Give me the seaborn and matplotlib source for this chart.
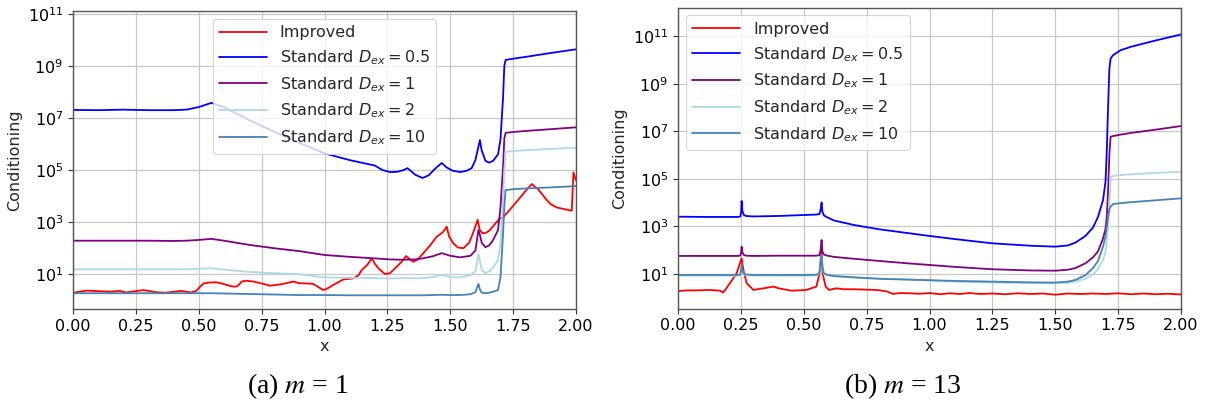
import numpy as np
import pandas as pd
import matplotlib
matplotlib.use("Agg")
import matplotlib.pyplot as plt
from matplotlib.ticker import NullLocator
import seaborn as sns

# ---------------------------------------------------------------------------
# Conditioning numbers along x, stored as log10 values
# ---------------------------------------------------------------------------
series_labels = ["Improved",
                 r"Standard $D_{ex} = 0.5$",
                 r"Standard $D_{ex} = 1$",
                 r"Standard $D_{ex} = 2$",
                 r"Standard $D_{ex} = 10$"]
series_colors = ["red", "blue", "purple", "lightblue", "steelblue"]

# (a) m = 1
x_improved_m1 = [0.00, 0.054, 0.147, 0.187, 0.21, 0.28, 0.33, 0.37, 0.43, 0.47,
                 0.49, 0.505, 0.52, 0.54, 0.57, 0.59, 0.624, 0.644, 0.655, 0.671,
                 0.69, 0.717, 0.757, 0.783, 0.81, 0.836, 0.876, 0.90, 0.916, 0.955,
                 0.975, 0.995, 1.015, 1.035, 1.075, 1.115, 1.135, 1.148, 1.17, 1.188,
                 1.20, 1.214, 1.24, 1.26, 1.287, 1.31, 1.324, 1.335, 1.353, 1.37,
                 1.393, 1.42, 1.446, 1.47, 1.486, 1.495, 1.512, 1.53, 1.552, 1.575,
                 1.59, 1.609, 1.617, 1.629, 1.645, 1.658, 1.68, 1.698, 1.711, 1.764,
                 1.80, 1.824, 1.85, 1.883, 1.90, 1.923, 1.983, 1.99, 2.00]
log_improved_m1 = [0.28, 0.36, 0.32, 0.35, 0.29, 0.38, 0.30, 0.28, 0.35, 0.29,
                   0.35, 0.51, 0.64, 0.67, 0.68, 0.64, 0.54, 0.51, 0.54, 0.71,
                   0.74, 0.71, 0.62, 0.55, 0.58, 0.62, 0.71, 0.64, 0.64, 0.62,
                   0.50, 0.38, 0.46, 0.58, 0.79, 0.83, 0.95, 1.15, 1.35, 1.60,
                   1.40, 1.22, 1.00, 1.03, 1.28, 1.50, 1.69, 1.60, 1.47, 1.55,
                   1.80, 2.10, 2.43, 2.60, 2.82, 2.45, 2.18, 2.02, 1.99, 2.20,
                   2.56, 3.08, 2.70, 2.56, 2.60, 2.69, 2.95, 3.14, 3.18, 3.78,
                   4.20, 4.46, 4.25, 3.85, 3.68, 3.56, 3.43, 4.90, 4.60]

x_dex05_m1 = [0.00, 0.10, 0.20, 0.30, 0.40, 0.45, 0.50, 0.55, 0.60, 0.70,
              0.80, 0.90, 1.00, 1.10, 1.20, 1.23, 1.26, 1.29, 1.315, 1.33,
              1.345, 1.36, 1.39, 1.415, 1.44, 1.466, 1.485, 1.51, 1.54, 1.565,
              1.585, 1.60, 1.612, 1.618, 1.625, 1.64, 1.655, 1.67, 1.69, 1.70,
              1.71, 1.715, 1.72, 1.75, 1.80, 1.90, 2.00]
log_dex05_m1 = [7.31, 7.30, 7.32, 7.30, 7.30, 7.32, 7.42, 7.58, 7.42, 6.92,
                6.47, 6.04, 5.64, 5.38, 5.17, 5.00, 4.92, 4.93, 5.00, 5.07,
                4.95, 4.82, 4.69, 4.80, 5.05, 5.27, 5.10, 4.97, 4.92, 4.97,
                5.07, 5.38, 5.90, 6.15, 5.75, 5.35, 5.28, 5.35, 5.60, 6.20,
                7.80, 9.00, 9.23, 9.28, 9.35, 9.50, 9.64]

x_standard_m1 = [0.00, 0.10, 0.20, 0.30, 0.40, 0.45, 0.50, 0.55, 0.60, 0.70,
                 0.80, 0.90, 1.00, 1.10, 1.20, 1.26, 1.30, 1.33, 1.36, 1.39,
                 1.43, 1.466, 1.50, 1.54, 1.58, 1.60, 1.612, 1.618, 1.625, 1.64,
                 1.655, 1.67, 1.69, 1.70, 1.71, 1.715, 1.72, 1.75, 1.80, 1.90,
                 2.00]
log_dex1_m1 = [2.28, 2.28, 2.28, 2.28, 2.27, 2.28, 2.31, 2.35, 2.28, 2.12,
               1.99, 1.88, 1.73, 1.66, 1.60, 1.56, 1.55, 1.55, 1.56, 1.60,
               1.68, 1.80, 1.70, 1.64, 1.70, 1.90, 2.69, 2.50, 2.20, 2.03,
               2.10, 2.30, 2.69, 3.60, 5.13, 6.20, 6.43, 6.46, 6.50, 6.57,
               6.64]
log_dex2_m1 = [1.18, 1.18, 1.18, 1.18, 1.18, 1.18, 1.20, 1.22, 1.17, 1.08,
               1.03, 0.99, 0.87, 0.85, 0.84, 0.83, 0.83, 0.85, 0.83, 0.84,
               0.88, 0.96, 0.88, 0.87, 0.95, 1.10, 1.77, 1.50, 1.15, 1.03,
               1.10, 1.25, 1.54, 2.20, 3.85, 5.00, 5.70, 5.73, 5.76, 5.81,
               5.86]
log_dex10_m1 = [0.26, 0.26, 0.26, 0.26, 0.26, 0.26, 0.26, 0.26, 0.25, 0.23,
                0.21, 0.19, 0.19, 0.18, 0.18, 0.18, 0.18, 0.18, 0.18, 0.18,
                0.19, 0.20, 0.19, 0.19, 0.22, 0.30, 0.62, 0.40, 0.28, 0.26,
                0.28, 0.32, 0.38, 0.90, 2.56, 3.60, 4.23, 4.26, 4.29, 4.33,
                4.38]

# (b) m = 13
x_improved_m13 = [0.00, 0.03, 0.06, 0.10, 0.13, 0.167, 0.18, 0.206, 0.233, 0.246,
                  0.253, 0.26, 0.273, 0.30, 0.34, 0.38, 0.40, 0.45, 0.51, 0.55,
                  0.563, 0.568, 0.571, 0.575, 0.587, 0.60, 0.63, 0.66, 0.70, 0.75,
                  0.79, 0.83, 0.855, 0.88, 0.92, 0.96, 1.00, 1.04, 1.08, 1.12,
                  1.16, 1.20, 1.25, 1.30, 1.35, 1.40, 1.45, 1.50, 1.55, 1.60,
                  1.65, 1.70, 1.75, 1.80, 1.85, 1.90, 1.95, 2.00]
log_improved_m13 = [0.28, 0.31, 0.31, 0.32, 0.33, 0.30, 0.22, 0.61, 1.03, 1.45,
                    1.66, 1.17, 0.61, 0.33, 0.40, 0.47, 0.40, 0.30, 0.33, 0.47,
                    1.03, 1.73, 2.00, 1.03, 0.47, 0.33, 0.40, 0.36, 0.36, 0.34,
                    0.33, 0.27, 0.16, 0.20, 0.19, 0.17, 0.20, 0.15, 0.19, 0.16,
                    0.20, 0.16, 0.18, 0.15, 0.19, 0.16, 0.18, 0.13, 0.18, 0.16,
                    0.18, 0.16, 0.19, 0.15, 0.18, 0.15, 0.17, 0.14]

x_standard_m13 = [0.00, 0.10, 0.20, 0.24, 0.248, 0.251, 0.253, 0.256, 0.262, 0.27,
                  0.30, 0.40, 0.50, 0.55, 0.562, 0.567, 0.571, 0.574, 0.58, 0.59,
                  0.62, 0.70, 0.80, 0.90, 1.00, 1.10, 1.25, 1.40, 1.50, 1.55,
                  1.58, 1.62, 1.65, 1.67, 1.69, 1.70, 1.705, 1.71, 1.715, 1.72,
                  1.73, 1.76, 1.80, 1.90, 2.00]
log_dex05_m13 = [3.41, 3.40, 3.40, 3.40, 3.42, 3.60, 4.07, 3.65, 3.48, 3.44,
                 3.42, 3.44, 3.48, 3.50, 3.52, 3.70, 4.01, 3.62, 3.47, 3.40,
                 3.25, 3.06, 2.88, 2.74, 2.60, 2.47, 2.29, 2.19, 2.15, 2.20,
                 2.32, 2.60, 2.95, 3.40, 4.11, 4.90, 6.21, 8.00, 9.60, 10.06,
                 10.20, 10.41, 10.55, 10.82, 11.07]
log_dex1_m13 = [1.76, 1.76, 1.76, 1.76, 1.78, 1.90, 2.15, 1.92, 1.80, 1.77,
                1.76, 1.77, 1.77, 1.77, 1.79, 2.00, 2.43, 1.95, 1.82, 1.78,
                1.72, 1.64, 1.55, 1.46, 1.38, 1.30, 1.20, 1.15, 1.14, 1.18,
                1.25, 1.45, 1.70, 1.95, 2.50, 2.90, 3.41, 4.50, 6.00, 6.77,
                6.80, 6.86, 6.93, 7.07, 7.22]
log_dex2_m13 = [0.93, 0.93, 0.93, 0.93, 0.96, 1.15, 1.38, 1.12, 0.99, 0.95,
                0.93, 0.93, 0.93, 0.94, 1.00, 1.40, 1.80, 1.25, 1.00, 0.95,
                0.90, 0.85, 0.80, 0.77, 0.73, 0.68, 0.64, 0.62, 0.61, 0.63,
                0.68, 0.80, 0.98, 1.20, 1.59, 1.95, 2.40, 3.00, 3.80, 5.09,
                5.12, 5.16, 5.19, 5.25, 5.30]
log_dex10_m13 = [0.96, 0.96, 0.96, 0.96, 0.99, 1.18, 1.40, 1.15, 1.02, 0.98,
                 0.96, 0.96, 0.96, 0.97, 1.03, 1.45, 1.80, 1.28, 1.04, 0.98,
                 0.92, 0.86, 0.80, 0.77, 0.74, 0.71, 0.68, 0.65, 0.64, 0.68,
                 0.75, 0.95, 1.25, 1.55, 2.15, 2.60, 3.00, 3.40, 3.70, 3.83,
                 3.94, 3.98, 4.02, 4.10, 4.18]

panel_captions = ["(a) $m$ = 1", "(b) $m$ = 13"]
ytick_exponents = [1, 3, 5, 7, 9, 11]


def long_table(curves):
    frames = []
    for lab, (xs, ys) in zip(series_labels, curves):
        frames.append(pd.DataFrame({"x": xs, "log": ys, "series": lab}))
    df = pd.concat(frames, ignore_index=True)
    df["Conditioning"] = np.power(10.0, df["log"])
    return df


data_m1 = long_table([(x_improved_m1, log_improved_m1),
                      (x_dex05_m1, log_dex05_m1),
                      (x_standard_m1, log_dex1_m1),
                      (x_standard_m1, log_dex2_m1),
                      (x_standard_m1, log_dex10_m1)])
data_m13 = long_table([(x_improved_m13, log_improved_m13),
                       (x_standard_m13, log_dex05_m13),
                       (x_standard_m13, log_dex1_m13),
                       (x_standard_m13, log_dex2_m13),
                       (x_standard_m13, log_dex10_m13)])

# ---------------------------------------------------------------------------
# Figure
# ---------------------------------------------------------------------------
sns.set_style("ticks")
plt.rcParams["font.family"] = ["DejaVu Sans"]
plt.rcParams["mathtext.fontset"] = "dejavusans"

fig = plt.figure(figsize=(12.07, 4.12), dpi=100)
ax_a = fig.add_axes([73 / 1207, 103 / 412, 503 / 1207, 298 / 412])
ax_b = fig.add_axes([678 / 1207, 103.5 / 412, 503 / 1207, 301 / 412])

palette = dict(zip(series_labels, series_colors))
fs = 11.5

for ax, df, ylim, loc in [(ax_a, data_m1, (0.45, 1.3e11), "upper center"),
                          (ax_b, data_m13, (0.355, 1.6e12), "upper left")]:
    sns.lineplot(data=df, x="x", y="Conditioning", hue="series",
                 hue_order=series_labels, palette=palette, estimator=None,
                 linewidth=1.3, ax=ax)
    ax.set_yscale("log")
    ax.set_xlim(0, 2)
    ax.set_ylim(*ylim)
    ax.set_xticks(np.arange(0, 2.01, 0.25))
    ax.set_xticklabels([f"{v:.2f}" for v in np.arange(0, 2.01, 0.25)])
    ax.set_yticks([10.0 ** e for e in ytick_exponents])
    ax.yaxis.set_minor_locator(NullLocator())
    ax.grid(True, color="#c8c8c8", linewidth=0.9)
    ax.set_axisbelow(True)
    for sp in ax.spines.values():
        sp.set_visible(True)
        sp.set_color("#555555")
        sp.set_linewidth(1.0)
    ax.tick_params(labelsize=fs, colors="#333333", labelcolor="black")
    ax.set_xlabel("x", fontsize=fs, labelpad=4)
    ax.set_ylabel("Conditioning", fontsize=fs, labelpad=4)
    leg = ax.legend(loc=loc, fontsize=fs, frameon=True, framealpha=0.8,
                    edgecolor="#cccccc", handlelength=3.0)
    leg.get_frame().set_linewidth(0.8)

# Panel captions
cap_kw = dict(fontsize=20, family="Liberation Serif", ha="center", va="center",
              math_fontfamily="stix", color="black")
fig.text(298 / 1207, 1 - 386 / 412, panel_captions[0], **cap_kw)
fig.text(903 / 1207, 1 - 386 / 412, panel_captions[1], **cap_kw)

fig.savefig("out.png", dpi=100)
